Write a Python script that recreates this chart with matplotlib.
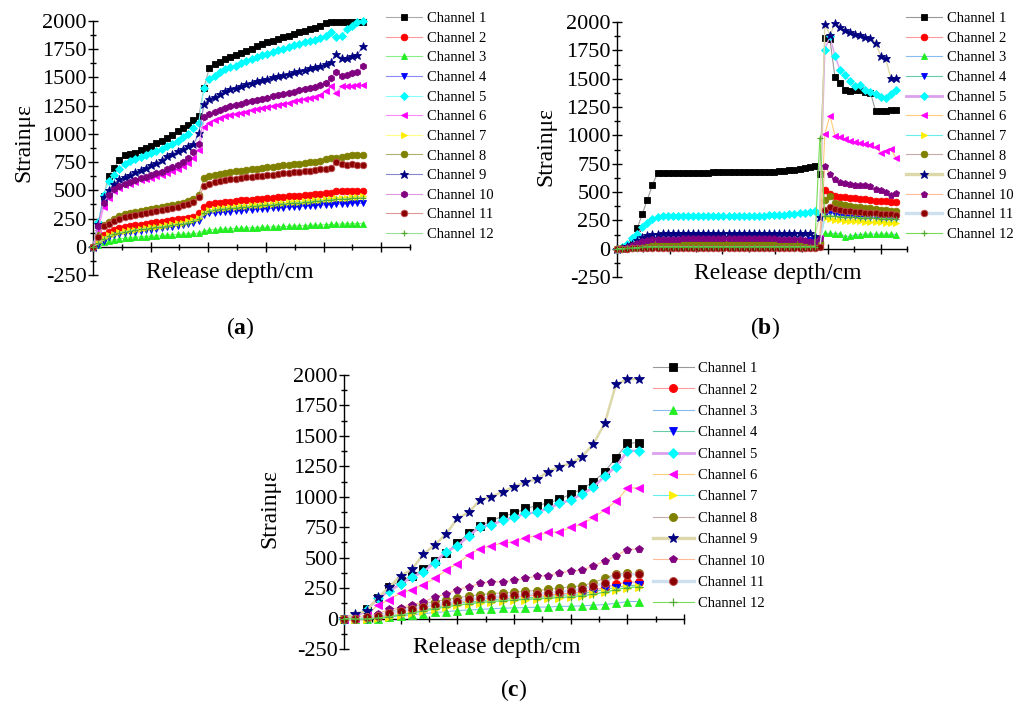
import numpy as np
import matplotlib
matplotlib.use('Agg')
import matplotlib.pyplot as plt

plt.rcParams['font.family'] = ['Liberation Serif', 'DejaVu Serif']
plt.rcParams['mathtext.fontset'] = 'custom'
plt.rcParams['mathtext.rm'] = 'Liberation Serif'
plt.rcParams['mathtext.bf'] = 'Liberation Serif:bold'
plt.rcParams['axes.unicode_minus'] = False

channels = ['Channel 1', 'Channel 2', 'Channel 3', 'Channel 4', 'Channel 5', 'Channel 6',
            'Channel 7', 'Channel 8', 'Channel 9', 'Channel 10', 'Channel 11', 'Channel 12']

# ---- panel (a) ----
a_ch1 = [0, 200, 450, 630, 700, 770, 815, 825, 835, 855,
         875, 895, 915, 940, 960, 990, 1025, 1050, 1080, 1120,
         1156, 1410, 1585, 1618, 1638, 1662, 1680, 1695, 1715, 1735,
         1755, 1775, 1795, 1810, 1825, 1840, 1855, 1870, 1885, 1900,
         1915, 1925, 1940, 1958, 1982, 1990, 1990, 1990, 1990, 1990,
         1990, 1995]
a_ch2 = [0, 50, 100, 130, 150, 163, 173, 182, 190, 197,
         204, 210, 216, 222, 228, 235, 242, 250, 258, 268,
         300, 350, 380, 388, 392, 396, 400, 405, 410, 414,
         418, 422, 426, 430, 434, 438, 442, 446, 450, 454,
         458, 462, 466, 470, 475, 480, 492, 495, 495, 495,
         495, 495]
a_ch3 = [0, 20, 40, 55, 63, 70, 75, 80, 84, 88,
         91, 94, 97, 100, 103, 106, 109, 112, 115, 118,
         122, 140, 148, 152, 155, 158, 160, 162, 164, 166,
         168, 170, 172, 174, 176, 178, 180, 182, 184, 186,
         188, 190, 192, 194, 196, 198, 200, 202, 203, 204,
         205, 205]
a_ch4 = [0, 15, 55, 85, 100, 110, 120, 128, 135, 141,
         147, 153, 159, 165, 171, 178, 185, 193, 202, 213,
         230, 280, 295, 300, 304, 308, 312, 316, 320, 324,
         328, 332, 335, 338, 341, 344, 347, 350, 353, 356,
         359, 362, 365, 368, 371, 374, 377, 380, 382, 384,
         385, 385]
a_ch5 = [0, 216, 462, 581, 640, 690, 730, 760, 780, 797,
         812, 830, 850, 870, 890, 910, 940, 970, 1000, 1050,
         1100, 1410, 1485, 1514, 1545, 1573, 1590, 1605, 1625, 1645,
         1660, 1680, 1695, 1710, 1725, 1740, 1755, 1770, 1785, 1800,
         1810, 1825, 1835, 1847, 1870, 1900, 1855, 1870, 1930, 1960,
         1990, 2000]
a_ch6 = [0, 150, 350, 430, 490, 520, 545, 560, 575, 590,
         600, 612, 625, 640, 655, 672, 690, 715, 745, 790,
         860, 1058, 1100, 1125, 1142, 1158, 1168, 1178, 1188, 1198,
         1208, 1218, 1228, 1238, 1248, 1258, 1268, 1278, 1288, 1298,
         1308, 1318, 1330, 1345, 1380, 1420, 1366, 1420, 1425, 1428,
         1430, 1431]
a_ch7 = [0, 40, 80, 100, 115, 127, 137, 145, 152, 160,
         166, 172, 178, 185, 192, 200, 207, 215, 225, 238,
         255, 300, 325, 335, 342, 346, 350, 354, 358, 362,
         366, 370, 374, 378, 382, 386, 390, 393, 397, 400,
         404, 408, 412, 416, 420, 424, 428, 432, 436, 440,
         444, 447]
a_ch8 = [0, 100, 190, 220, 250, 270, 290, 300, 310, 320,
         330, 337, 345, 352, 360, 370, 380, 392, 405, 425,
         462, 605, 625, 635, 645, 656, 662, 668, 674, 680,
         686, 691, 697, 703, 708, 714, 720, 725, 731, 737,
         742, 748, 754, 760, 775, 782, 785, 795, 805, 810,
         815, 810]
a_ch9 = [0, 200, 440, 507, 560, 596, 620, 640, 660, 680,
         700, 720, 745, 770, 800, 820, 845, 862, 892, 907,
         1004, 1262, 1313, 1330, 1355, 1380, 1395, 1410, 1425, 1440,
         1455, 1465, 1475, 1490, 1500, 1510, 1520, 1530, 1545, 1555,
         1565, 1580, 1590, 1605, 1620, 1640, 1707, 1670, 1675, 1690,
         1700, 1780]
a_ch10 = [0, 180, 390, 460, 510, 540, 560, 575, 590, 605,
          620, 635, 650, 665, 685, 705, 725, 755, 790, 836,
          907, 1147, 1173, 1190, 1210, 1233, 1245, 1255, 1268, 1280,
          1290, 1300, 1312, 1322, 1333, 1343, 1353, 1363, 1373, 1385,
          1395, 1405, 1415, 1430, 1450, 1493, 1550, 1514, 1525, 1535,
          1545, 1597]
a_ch11 = [0, 90, 180, 200, 225, 245, 260, 272, 282, 292,
          300, 308, 316, 325, 335, 345, 355, 367, 380, 400,
          438, 536, 560, 572, 582, 590, 596, 602, 608, 614,
          620, 625, 630, 635, 640, 645, 650, 655, 660, 665,
          670, 675, 680, 685, 692, 700, 755, 729, 725, 730,
          725, 720]
a_ch12 = [0, 30, 70, 95, 110, 122, 132, 140, 147, 154,
          160, 166, 172, 178, 185, 192, 199, 206, 215, 228,
          245, 295, 318, 328, 334, 338, 342, 346, 350, 354,
          358, 362, 366, 370, 374, 378, 382, 385, 389, 392,
          396, 400, 404, 408, 412, 416, 420, 424, 427, 430,
          433, 436]

# ---- panel (b) ----
b_ch1 = [0, 5, 20, 68, 181, 308, 433, 566, 665, 668,
         668, 670, 670, 670, 670, 672, 672, 672, 672, 674,
         674, 674, 674, 675, 675, 675, 675, 675, 676, 676,
         678, 680, 684, 688, 692, 698, 704, 712, 720, 729,
         660,
         1855, 1846, 1511, 1458, 1404, 1390, 1404, 1400, 1380, 1375,
         1218, 1215, 1215, 1220, 1227]
b_ch2 = [0, 2, 5, 10, 16, 22, 26, 28, 30, 30,
         30, 30, 30, 30, 30, 30, 30, 30, 30, 30,
         30, 30, 30, 30, 30, 30, 30, 30, 30, 30,
         30, 30, 30, 30, 30, 30, 30, 30, 32, 35,
         40,
         522, 483, 468, 460, 455, 450, 445, 440, 435, 430,
         425, 420, 418, 415, 412]
b_ch3 = [0, 1, 4, 8, 12, 16, 19, 21, 22, 22,
         22, 22, 22, 22, 22, 22, 22, 22, 22, 22,
         22, 22, 22, 22, 22, 22, 22, 22, 22, 22,
         22, 22, 22, 22, 22, 22, 22, 22, 24, 26,
         30,
         136, 135, 133, 130, 107, 112, 120, 125, 127, 128,
         128, 128, 128, 128, 125]
b_ch4 = [0, 4, 10, 20, 35, 50, 60, 66, 70, 72,
         72, 72, 72, 72, 72, 72, 72, 72, 72, 72,
         72, 72, 72, 72, 72, 72, 72, 72, 72, 72,
         72, 72, 72, 72, 72, 72, 72, 72, 74, 78,
         85,
         300, 320, 305, 298, 292, 288, 285, 282, 280, 278,
         276, 274, 272, 270, 268]
b_ch5 = [0, 15, 40, 92, 127, 187, 230, 262, 280, 285,
         287, 288, 288, 288, 288, 288, 288, 288, 288, 288,
         288, 288, 288, 289, 289, 290, 290, 290, 291, 292,
         293, 295, 297, 300, 303, 307, 312, 318, 325, 335,
         300,
         1757, 1876, 1698, 1580, 1529, 1476, 1436, 1440, 1400, 1380,
         1369, 1342, 1330, 1369, 1402]
b_ch6 = [0, 3, 8, 15, 25, 38, 48, 55, 58, 60,
         60, 60, 60, 60, 60, 60, 60, 60, 60, 60,
         60, 60, 60, 60, 60, 60, 60, 60, 60, 60,
         60, 60, 60, 60, 60, 60, 60, 60, 62, 65,
         90,
         1011, 1174, 996, 982, 965, 951, 940, 928, 922, 916,
         900, 847, 866, 877, 803]
b_ch7 = [0, 2, 6, 12, 20, 28, 34, 38, 40, 40,
         40, 40, 40, 40, 40, 40, 40, 40, 40, 40,
         40, 40, 40, 40, 40, 40, 40, 40, 40, 40,
         40, 40, 40, 40, 40, 40, 40, 40, 42, 45,
         50,
         270, 262, 255, 250, 247, 244, 242, 240, 238, 236,
         234, 232, 230, 228, 225]
b_ch8 = [0, 3, 8, 15, 25, 35, 42, 46, 48, 49,
         49, 49, 49, 49, 49, 49, 49, 49, 49, 49,
         49, 49, 49, 49, 49, 49, 49, 49, 49, 49,
         49, 49, 49, 49, 49, 49, 49, 49, 51, 54,
         60,
         433, 462, 403, 395, 385, 376, 370, 365, 360, 355,
         350, 345, 340, 335, 330]
b_ch9 = [0, 8, 20, 45, 75, 100, 118, 128, 133, 135,
         136, 136, 137, 137, 137, 137, 137, 138, 138, 138,
         138, 138, 138, 138, 138, 138, 138, 138, 138, 138,
         138, 138, 138, 138, 138, 137, 137, 136, 135, 115,
         280,
         1982, 1885, 1988, 1959, 1930, 1915, 1893, 1885, 1870, 1860,
         1816, 1701, 1680, 1505, 1505]
b_ch10 = [0, 5, 15, 30, 50, 68, 78, 84, 87, 88,
          88, 89, 89, 90, 90, 90, 90, 90, 90, 90,
          90, 90, 90, 90, 90, 90, 90, 90, 90, 90,
          90, 90, 89, 88, 87, 85, 82, 78, 72, 68,
          95,
          729, 655, 613, 590, 580, 572, 566, 562, 558, 551,
          524, 515, 500, 476, 492]
b_ch11 = [0, 0, 1, 2, 3, 4, 5, 5, 5, 5,
          5, 5, 5, 5, 5, 5, 5, 5, 5, 5,
          5, 5, 5, 5, 5, 5, 5, 5, 5, 5,
          5, 5, 5, 5, 5, 5, 5, 5, 6, 8,
          15,
          344, 364, 350, 340, 335, 330, 325, 320, 318, 315,
          312, 310, 307, 303, 299]
b_ch12 = [0, 1, 3, 6, 10, 14, 17, 18, 18, 18,
          18, 18, 18, 18, 18, 18, 18, 18, 18, 18,
          18, 18, 18, 18, 18, 18, 18, 18, 18, 18,
          18, 18, 18, 18, 18, 18, 18, 18, 18, 18,
          980,
          290, 290, 285, 282, 280, 278, 276, 274, 272, 270,
          268, 266, 264, 262, 260]

# ---- panel (c) ----
c_ch1 = [0, 15, 80, 165, 260, 310, 350, 405, 470, 540,
         620, 699, 759, 803, 841, 863, 904, 926, 951, 978,
         1022, 1063, 1123, 1206, 1321, 1439, 1445]
c_ch2 = [0, 0, 5, 15, 35, 55, 70, 90, 105, 120,
         135, 150, 160, 170, 175, 180, 185, 190, 195, 200,
         210, 220, 235, 255, 280, 300, 300]
c_ch3 = [0, -5, -5, 0, 10, 20, 30, 40, 50, 55,
         65, 70, 75, 80, 85, 88, 90, 93, 95, 100,
         100, 105, 110, 115, 125, 140, 140]
c_ch4 = [0, 0, 0, 5, 20, 35, 50, 70, 90, 110,
         125, 135, 145, 155, 160, 165, 170, 175, 180, 190,
         195, 205, 220, 240, 255, 270, 275]
c_ch5 = [0, 10, 70, 165, 227, 282, 342, 383, 460, 548,
         597, 677, 753, 767, 808, 830, 863, 871, 904, 945,
         973, 1022, 1077, 1170, 1247, 1375, 1380]
c_ch6 = [0, 5, 30, 110, 156, 211, 238, 279, 329, 397,
         452, 521, 575, 597, 622, 630, 663, 680, 707, 712,
         748, 775, 830, 890, 964, 1069, 1075]
c_ch7 = [0, -5, -5, 5, 15, 30, 45, 60, 80, 95,
         110, 120, 130, 140, 145, 150, 155, 160, 165, 170,
         175, 185, 200, 215, 235, 255, 260]
c_ch8 = [0, 2, 10, 30, 55, 80, 100, 120, 140, 155,
         170, 185, 195, 205, 210, 215, 225, 230, 240, 250,
         260, 270, 295, 330, 365, 370, 370]
c_ch9 = [0, 41, 63, 173, 260, 351, 405, 529, 603, 693,
         822, 871, 973, 1000, 1041, 1082, 1123, 1143, 1206, 1247,
         1274, 1329, 1433, 1603, 1923, 1967, 1967]
c_ch10 = [0, 5, 15, 40, 77, 90, 115, 135, 178, 200,
          238, 260, 288, 301, 301, 315, 329, 348, 351, 375,
          389, 397, 433, 471, 515, 567, 570]
c_ch11 = [0, 0, 10, 25, 45, 65, 80, 95, 115, 130,
          145, 160, 170, 180, 185, 195, 200, 205, 210, 220,
          230, 245, 265, 295, 360, 360, 365]
c_ch12 = [0, -3, -3, 5, 15, 30, 45, 62, 80, 95,
          110, 122, 132, 140, 147, 153, 158, 163, 168, 173,
          180, 188, 200, 218, 238, 255, 260]

a_data = [a_ch1, a_ch2, a_ch3, a_ch4, a_ch5, a_ch6, a_ch7, a_ch8, a_ch9, a_ch10, a_ch11, a_ch12]
b_data = [b_ch1, b_ch2, b_ch3, b_ch4, b_ch5, b_ch6, b_ch7, b_ch8, b_ch9, b_ch10, b_ch11, b_ch12]
c_data = [c_ch1, c_ch2, c_ch3, c_ch4, c_ch5, c_ch6, c_ch7, c_ch8, c_ch9, c_ch10, c_ch11, c_ch12]

# styles
mk_a = ['s', 'o', '^', 'v', 'D', '<', '>', 'o', '*', 'h', 'o', '+']
mk_bc = ['s', 'o', '^', 'v', 'D', '<', '>', 'o', '*', 'p', 'o', '+']
mcol = ['#000000', '#ff0000', '#22ee22', '#0000ff', '#00ffff', '#ff00ff',
        '#ffee00', '#808000', '#000080', '#800080', '#8b0000', '#55aa33']
line_a = ['#aaaaaa', '#ff9999', '#88ee88', '#8888ff', '#88ffff', '#ff88ff',
          '#ffff88', '#b0b070', '#8888cc', '#dd99dd', '#dd9999', '#99dd99']
line_bc = ['#999999', '#ff9999', '#88bbee', '#66ccaa', '#dda0ee', '#ffcc77',
           '#66eeee', '#c8aaaa', '#ddd8aa', '#ffbb99', '#cce0f0', '#77dd55']
lw_a = [0.8] * 12
lw_bc = [0.8, 0.8, 0.8, 0.8, 2.0, 0.8, 0.8, 0.8, 2.4, 0.8, 2.4, 0.8]

W, H = 1024, 709
fig = plt.figure(figsize=(W / 100, H / 100), dpi=100)


def box(x0, ytop, x1, ybot):
    return [x0 / W, 1 - ybot / H, (x1 - x0) / W, (ybot - ytop) / H]


def panel(rect, data, mks, lcols, lws, plot_lw, ms, step, xmax, leg_xy, leg_space, leg_hl):
    ax = fig.add_axes(rect)
    for k in range(12):
        y = data[k]
        x = np.arange(len(y))
        mec = '#c05050' if k == 10 else mcol[k]
        size = ms * 1.3 if mks[k] == '*' else ms
        if mks[k] == 'D':
            size = ms * 0.85
        ax.plot(x, y, color=lcols[k], lw=min(lws[k], plot_lw), marker=mks[k], ms=size,
                mfc=mcol[k], mec=mec, mew=0.6 if mks[k] != '+' else 0.9,
                label=channels[k], clip_on=False, zorder=3 + k * 0.1)
    ax.set_xlim(0, xmax)
    ax.set_ylim(-250, 2000)
    ax.spines['top'].set_visible(False)
    ax.spines['right'].set_visible(False)
    ax.spines['bottom'].set_position(('data', 0))
    for s in ('left', 'bottom'):
        ax.spines[s].set_linewidth(1.0)
    ax.set_xticks(np.arange(0, xmax + 1e-6, step))
    ax.set_xticks(np.arange(step / 2, xmax + 1e-6, step), minor=True)
    ax.set_xticklabels([])
    ax.set_yticks(np.arange(-250, 2001, 250))
    ax.set_yticks(np.arange(-125, 2000, 250), minor=True)
    ax.tick_params(which='major', direction='inout', length=7, width=1.0,
                   labelsize=16, pad=1)
    ax.tick_params(which='minor', direction='inout', length=4, width=1.0)
    ax.patch.set_alpha(0)
    leg = ax.legend(loc='upper left', bbox_to_anchor=(leg_xy[0] / W, 1 - leg_xy[1] / H),
                    bbox_transform=fig.transFigure, frameon=False, fontsize=10.5,
                    handlelength=leg_hl, handletextpad=0.3, labelspacing=leg_space,
                    borderpad=0, borderaxespad=0)
    for k, h in enumerate(leg.get_lines()):
        h.set_linewidth(lws[k])
    return ax


panel(box(93, 21, 410, 275), a_data, mk_a, line_a, lw_a, 0.8, 4.8, 10.9, 5.5 * 10.9,
      (386, 12), 0.44, 2.5)
panel(box(617, 22, 907, 277), b_data, mk_bc, line_bc, lw_bc, 1.0, 4.8, 10.4, 5.5 * 10.4,
      (906, 12), 0.44, 2.5)
panel(box(344, 375, 684, 649), c_data, mk_bc, line_bc, lw_bc, 1.8, 5.8, 5, 30,
      (653, 362), 0.56, 2.8)

# axis titles and captions
for (x, y) in [(230, 272), (778, 273), (497, 647)]:
    fig.text(x / W, 1 - y / H, 'Release depth/cm', fontsize=17, ha='center', va='center')
for (x, y) in [(24, 142), (546, 146), (270, 508)]:
    fig.text(x / W, 1 - y / H, 'Strainμε', fontsize=17, ha='center', va='center', rotation=90)
for (x, y, t) in [(240, 328, 'a'), (765, 328, 'b'), (514, 690, 'c')]:
    fig.text(x / W, 1 - y / H, '($\\mathbf{' + t + '}$)', fontsize=17, ha='center', va='center')

fig.savefig('out.png', dpi=100)
